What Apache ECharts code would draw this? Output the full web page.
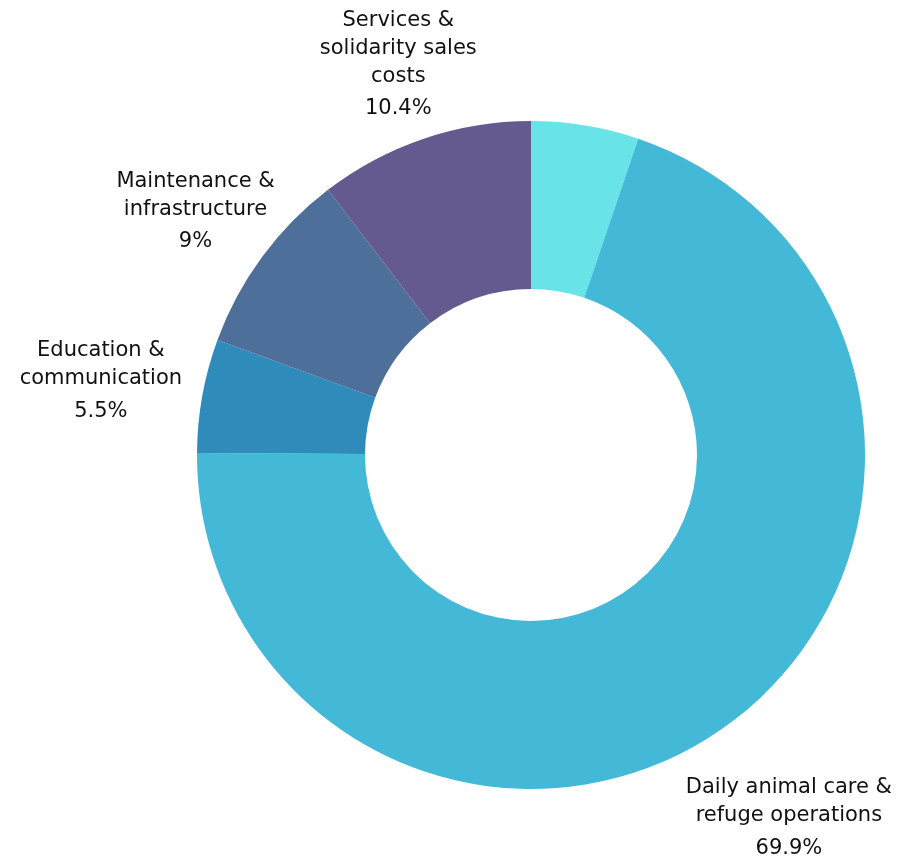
<!DOCTYPE html>
<html>
<head>
<meta charset="utf-8">
<script src="https://cdn.jsdelivr.net/npm/echarts@6/dist/echarts.min.js"></script>
<style>
html,body{margin:0;padding:0;background:#fff;}
#main{width:919px;height:863px;}
</style>
</head>
<body>
<div id="main"></div>
<script>
const categories = [
  "Other",
  "Daily animal care &\nrefuge operations",
  "Education &\ncommunication",
  "Maintenance &\ninfrastructure",
  "Services &\nsolidarity sales\ncosts"
];
const values = [5.2, 69.9, 5.5, 9, 10.4];
const showLabel = [false, true, true, true, true];
const colors = ["#68e3e8", "#43b8d7", "#2e8bba", "#4e6f9a", "#645a8f"];
const labelPad = [[0,0,0,0],[32,0,0,18],[9,16,0,0],[26,0,0,20],[36,0,0,10]];

const chart = echarts.init(document.getElementById('main'), null, {renderer:'canvas'});
const fontFamily = '"DejaVu Sans", sans-serif';

chart.setOption({
  animation: false,
  backgroundColor: '#ffffff',
  series: [
    {
      type: 'pie',
      center: [531, 455],
      radius: [166, 334],
      startAngle: 90,
      clockwise: true,
      silent: true,
      label: { show: false },
      labelLine: { show: false },
      data: categories.map((c, i) => ({
        name: c, value: values[i],
        itemStyle: { color: colors[i] }
      }))
    },
    {
      type: 'pie',
      center: [531, 455],
      radius: [390, 462],
      startAngle: 90,
      clockwise: true,
      silent: true,
      itemStyle: { color: 'rgba(0,0,0,0)' },
      labelLine: { show: false },
      label: {
        show: true,
        position: 'inside',
        color: '#111',
        fontFamily: fontFamily,
        fontSize: 21,
        align: 'center',
        formatter: p => '{n|' + p.name + '}\n{v|' + p.value + '%}',
        rich: {
          n: { fontFamily: fontFamily, fontSize: 21, lineHeight: 28, color: '#111', align: 'center' },
          v: { fontFamily: fontFamily, fontSize: 21, lineHeight: 37, color: '#111', align: 'center' }
        }
      },
      data: categories.map((c, i) => ({
        name: c, value: values[i],
        label: { show: showLabel[i], padding: labelPad[i] }
      }))
    }
  ]
});
</script>
</body>
</html>
